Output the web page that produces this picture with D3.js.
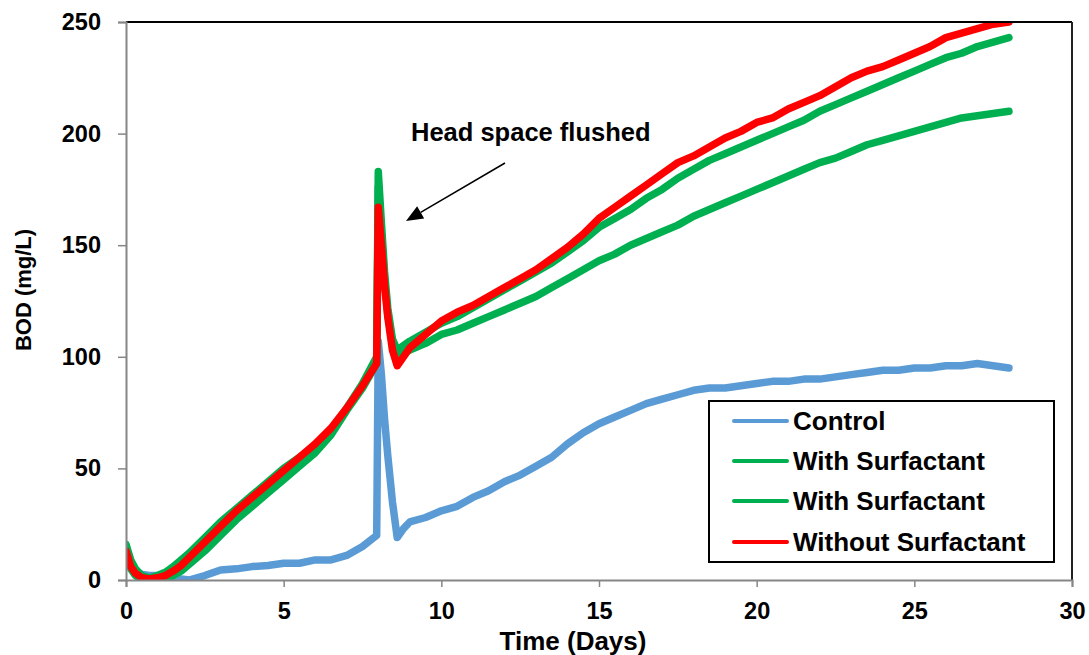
<!DOCTYPE html>
<html>
<head>
<meta charset="utf-8">
<script src="https://cdn.jsdelivr.net/npm/d3@7"></script>
<style>
  html, body { margin: 0; padding: 0; background: #fff; }
  svg { display: block; font-family: "Liberation Sans", Arial, sans-serif; font-weight: bold; }
</style>
</head>
<body>
<svg id="chart" width="1089" height="655"></svg>
<script>
// ---- Data ----
const days = [0,0.15,0.3,0.5,0.75,1,1.25,1.5,1.75,2,
  2.5,3,3.5,4,4.5,5,5.5,6,6.5,7,7.5,
  7.95,8.0,8.1,8.2,8.3,8.45,8.6,8.8,
  9,9.5,10,10.5,11,11.5,12,12.5,13,13.5,14,14.5,15,15.5,16,16.5,17,17.5,18,18.5,
  19,19.5,20,20.5,21,21.5,22,22.5,23,23.5,24,24.5,25,25.5,26,26.5,27,27.5,28];

const control = [14,7,4,2.5,2,2,1.5,1,0.5,0,
  2,4.5,5,6,6.5,7.5,7.5,9,9,11,15,
  20,107,92,72,56,35,19,23,
  26,28,31,33,37,40,44,47,51,55,61,66,70,73,76,79,81,83,85,86,
  86,87,88,89,89,90,90,91,92,93,94,94,95,95,96,96,97,96,95];

const withSurfactantA = [16,9,5,2,1,2,3.5,6,9,12,
  19,26,32,38,44,50,55,60,67,77,88,
  100,183,160,138,122,108,103,105,
  107,111,115,118,122,126,130,134,138,142,147,152,158,162,166,171,175,180,184,188,
  191,194,197,200,203,206,210,213,216,219,222,225,228,231,234,236,239,241,243];

const withSurfactantB = [10,5,2,0,-1,-1,0,2,4,7,
  13,20,27,33,39,45,51,57,65,76,86,
  97,176,155,134,119,106,101,102,
  103,106,110,112,115,118,121,124,127,131,135,139,143,146,150,153,156,159,163,166,
  169,172,175,178,181,184,187,189,192,195,197,199,201,203,205,207,208,209,210];

const withoutSurfactant = [13,6,3,1,0.5,1,2,4,6.5,10,
  17,24,31,37,43,49,55,61,68,77,87,
  97,167,150,132,118,103,96,100,
  104,110,116,120,123,127,131,135,139,144,149,155,162,167,172,177,182,187,190,194,
  198,201,205,207,211,214,217,221,225,228,230,233,236,239,243,245,247,249,250];

const seriesNames = ["Control", "With Surfactant", "With Surfactant", "Without Surfactant"];
const seriesColors = ["#5B9BD5", "#00B050", "#00B050", "#FF0000"];
const seriesValues = [control, withSurfactantB, withSurfactantA, withoutSurfactant];

const xTicks = [0,5,10,15,20,25,30];
const yTicks = [0,50,100,150,200,250];
const xTitle = "Time (Days)";
const yTitle = "BOD (mg/L)";
const annotationText = "Head space flushed";

// ---- Layout ----
const svg = d3.select("#chart");
const L = 126, R = 1072, T = 22, B = 580;

const x = d3.scaleLinear().domain([0, 30]).range([L, R]);
const y = d3.scaleLinear().domain([0, 250]).range([B, T]);

svg.append("defs").append("clipPath").attr("id", "plotclip")
  .append("rect").attr("x", L).attr("y", T).attr("width", R - L).attr("height", B - T);

// Series lines
const line = d3.line().x(d => x(d[0])).y(d => y(d[1]));
const plot = svg.append("g").attr("clip-path", "url(#plotclip)");
seriesValues.forEach((vals, i) => {
  plot.append("path")
    .datum(days.map((d, j) => [d, vals[j]]))
    .attr("d", line)
    .attr("fill", "none")
    .attr("stroke", seriesColors[i])
    .attr("stroke-width", 7.5)
    .attr("stroke-linejoin", "round")
    .attr("stroke-linecap", "round");
});

// Top & right border
svg.append("line").attr("x1", L).attr("x2", R).attr("y1", T).attr("y2", T)
  .attr("stroke", "#000").attr("stroke-width", 2);
svg.append("line").attr("x1", R).attr("x2", R).attr("y1", T).attr("y2", B)
  .attr("stroke", "#222").attr("stroke-width", 2);

// Axes
const yAxis = svg.append("g").attr("transform", `translate(${L},0)`)
  .call(d3.axisLeft(y).tickValues(yTicks).tickSize(8).tickPadding(17).tickFormat(d3.format("d")));
const xAxis = svg.append("g").attr("transform", `translate(0,${B})`)
  .call(d3.axisBottom(x).tickValues(xTicks).tickSize(7).tickPadding(15).tickFormat(d3.format("d")));
[yAxis, xAxis].forEach(g => {
  g.select(".domain").attr("stroke", "#868686").attr("stroke-width", 2);
  g.selectAll(".tick line").attr("stroke", "#868686").attr("stroke-width", 1.5);
  g.selectAll(".tick text").attr("fill", "#000")
    .style("font-family", "'Liberation Sans', Arial, sans-serif")
    .style("font-weight", "bold").style("font-size", "23.5px");
});

// Axis titles
svg.append("text").attr("x", 573).attr("y", 650).attr("text-anchor", "middle")
  .style("font-size", "26px").text(xTitle);
svg.append("text").attr("transform", "translate(31,290) rotate(-90)").attr("text-anchor", "middle")
  .style("font-size", "22px").text(yTitle);

// Annotation
svg.append("text").attr("x", 411).attr("y", 141).style("font-size", "25.5px").text(annotationText);
const ax1 = 505, ay1 = 163, ax2 = 406, ay2 = 221;
const ang = Math.atan2(ay2 - ay1, ax2 - ax1);
const hl = 17, hw = 7;
const bx = ax2 - hl * Math.cos(ang), by = ay2 - hl * Math.sin(ang);
svg.append("line").attr("x1", ax1).attr("y1", ay1).attr("x2", bx).attr("y2", by)
  .attr("stroke", "#000").attr("stroke-width", 1.5);
svg.append("path")
  .attr("d", `M${ax2},${ay2} L${bx + hw * Math.sin(ang)},${by - hw * Math.cos(ang)} L${bx - hw * Math.sin(ang)},${by + hw * Math.cos(ang)} Z`)
  .attr("fill", "#000");

// Legend
const lg = svg.append("g");
lg.append("rect").attr("x", 709).attr("y", 401).attr("width", 345).attr("height", 161)
  .attr("fill", "#fff").attr("stroke", "#000").attr("stroke-width", 2);
const rowY = [421, 461, 501, 542];
seriesNames.forEach((name, i) => {
  lg.append("line").attr("x1", 734).attr("x2", 787).attr("y1", rowY[i]).attr("y2", rowY[i])
    .attr("stroke", seriesColors[i]).attr("stroke-width", 4).attr("stroke-linecap", "round");
  lg.append("text").attr("x", 793).attr("y", rowY[i] + 9).style("font-size", "26px").text(name);
});
</script>
</body>
</html>
